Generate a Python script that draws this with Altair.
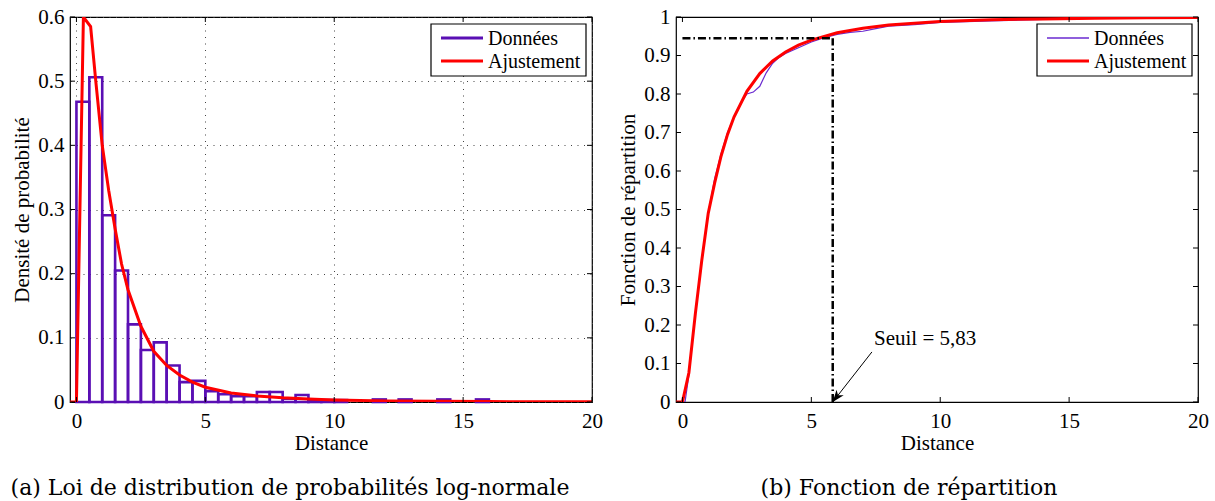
import math
import altair as alt
import pandas as pd

# ---------------------------------------------------------------------------
# Data
# ---------------------------------------------------------------------------
SERIES = ["Données", "Ajustement"]
PURPLE = "#5a0fb4"
PURPLE_THIN = "#6a2ad0"
RED = "#ff0000"

# Histogram of distances, bins of width 0.5 starting at 0
BIN_WIDTH = 0.5
densite = [0.468, 0.506, 0.291, 0.205, 0.121, 0.081, 0.093, 0.057,
           0.031, 0.033, 0.017, 0.012, 0.009, 0.009, 0.0156, 0.0156,
           0.005, 0.011, 0.003, 0.003, 0.003, 0.0, 0.0, 0.004,
           0.0, 0.004, 0.0, 0.0, 0.004, 0.0, 0.0, 0.004]

# Fitted log-normal density
pdf_x = [-0.25, 0.0, 0.27, 0.55, 0.75, 1.0, 1.25, 1.5, 1.75, 2.0, 2.5, 3.0,
         3.5, 4.0, 4.5, 5.0, 6.0, 7.0, 8.0, 9.0, 10.0, 12.0, 14.0, 16.0,
         18.0, 20.0]
pdf_y = [0.0, 0.0, 0.600, 0.585, 0.500, 0.400, 0.330, 0.270, 0.215, 0.175,
         0.118, 0.079, 0.057, 0.042, 0.031, 0.023, 0.014, 0.0095, 0.0065,
         0.0045, 0.0032, 0.0017, 0.0010, 0.0006, 0.0004, 0.0003]

# Empirical distribution function
ecdf_x = [-0.25, 0.1, 0.25, 0.5, 0.75, 1.0, 1.25, 1.5, 1.75, 2.0, 2.25, 2.5,
          2.75, 3.0, 3.25, 3.5, 3.75, 4.0, 4.5, 5.0, 5.5, 6.0, 6.5, 7.0, 7.5,
          8.0, 9.0, 10.0, 12.0, 14.0, 16.0, 20.0]
ecdf_y = [0.0, 0.0, 0.07, 0.23, 0.37, 0.49, 0.58, 0.645, 0.70, 0.74, 0.775,
          0.80, 0.805, 0.82, 0.855, 0.88, 0.895, 0.905, 0.92, 0.935, 0.946,
          0.955, 0.96, 0.963, 0.97, 0.976, 0.98, 0.986, 0.99, 0.994, 0.998,
          1.0]

# Fitted log-normal distribution function
cdf_x = [-0.25, 0.0, 0.25, 0.5, 0.75, 1.0, 1.25, 1.5, 1.75, 2.0, 2.5, 3.0,
         3.5, 4.0, 4.5, 5.0, 6.0, 7.0, 8.0, 10.0, 12.0, 14.0, 16.0, 18.0, 20.0]
cdf_y = [0.0, 0.0, 0.076, 0.229, 0.368, 0.490, 0.569, 0.639, 0.695, 0.740,
         0.807, 0.853, 0.886, 0.909, 0.927, 0.940, 0.959, 0.971, 0.979, 0.988,
         0.993, 0.995, 0.997, 0.998, 0.999]

# Threshold read on the fitted distribution function
SEUIL = 5.83
NIVEAU = 0.945
seuil_label = "Seuil = 5,83"
label_pos = (7.43, 0.163)     # where the annotation text starts
arrow_tail = (7.35, 0.13)

# Axis ticks
x_ticks = [0, 5, 10, 15, 20]
y_ticks_pdf = [0, 0.1, 0.2, 0.3, 0.4, 0.5, 0.6]
y_ticks_cdf = [0, 0.1, 0.2, 0.3, 0.4, 0.5, 0.6, 0.7, 0.8, 0.9, 1]

captions = ["(a) Loi de distribution de probabilités log-normale",
            "(b) Fonction de répartition"]

# ---------------------------------------------------------------------------
# Layout constants
# ---------------------------------------------------------------------------
W, H = 522, 385
XDOM = [-0.25, 20]
FONT = "Liberation Serif"
AXIS_SIZE = 21
CAP_FONT = "DejaVu Serif"
TICK = 5

hist_df = pd.DataFrame({
    "lo": [i * BIN_WIDTH for i in range(len(densite))],
    "hi": [(i + 1) * BIN_WIDTH for i in range(len(densite))],
    "d": densite,
})
hist_df = hist_df[hist_df["d"] > 0]
pdf_df = pd.DataFrame({"x": pdf_x, "y": pdf_y})
ecdf_df = pd.DataFrame({"x": ecdf_x, "y": ecdf_y})
cdf_df = pd.DataFrame({"x": cdf_x, "y": cdf_y})

GRID = dict(gridDash=[1, 5.5], gridColor="#444444", gridWidth=1)
TEXT = dict(labelFont=FONT, labelFontSize=AXIS_SIZE, labelColor="black",
            titleFont=FONT, titleFontSize=AXIS_SIZE, titleFontWeight="normal",
            titleColor="black", ticks=False, domain=False, labelFlush=False,
            labelOverlap=False, format="~g")


class Panel:
    """Shared x/y channel builders so that every layer carries the same axis."""

    def __init__(self, ydom, yvals, ytitle, grid):
        self.xscale = alt.Scale(domain=XDOM, nice=False, zero=False)
        self.yscale = alt.Scale(domain=ydom, nice=False)
        self.xaxis = alt.Axis(values=x_ticks, title="Distance", labelPadding=8,
                              titlePadding=1, grid=grid, **GRID, **TEXT)
        self.yaxis = alt.Axis(values=yvals, title=ytitle, labelPadding=6,
                              titlePadding=5, grid=grid, **GRID, **TEXT)
        self.yvals = yvals

    def x(self, field="x"):
        return alt.X(field, type="quantitative", scale=self.xscale, axis=self.xaxis)

    def y(self, field="y"):
        return alt.Y(field, type="quantitative", scale=self.yscale, axis=self.yaxis)

    def inner_ticks(self):
        """Inward tick marks on all four sides of the frame."""
        xt = pd.DataFrame({"t": x_ticks})
        yt = pd.DataFrame({"t": self.yvals})
        rule = dict(color="black", strokeWidth=1)
        return [
            alt.Chart(xt).mark_rule(**rule).encode(
                x=self.x("t"), y=alt.value(H), y2=alt.value(H - TICK)),
            alt.Chart(xt).mark_rule(**rule).encode(
                x=self.x("t"), y=alt.value(0), y2=alt.value(TICK)),
            alt.Chart(yt).mark_rule(**rule).encode(
                y=self.y("t"), x=alt.value(0), x2=alt.value(TICK)),
            alt.Chart(yt).mark_rule(**rule).encode(
                y=self.y("t"), x=alt.value(W), x2=alt.value(W - TICK)),
        ]


def legend(widths, colors):
    """Boxed legend in the upper right corner."""
    box_x, box_x2, box_y, box_y2 = W - 161, W - 6, 7, 59
    layers = [
        alt.Chart(pd.DataFrame({"a": [0]})).mark_rect(
            fill="white", stroke="black", strokeWidth=1.2).encode(
            x=alt.value(box_x), x2=alt.value(box_x2),
            y=alt.value(box_y), y2=alt.value(box_y2))
    ]
    for i, name in enumerate(SERIES):
        yy = 21 + 23 * i
        layers.append(
            alt.Chart(pd.DataFrame({"a": [0]})).mark_rule(
                color=colors[i], strokeWidth=widths[i]).encode(
                x=alt.value(box_x + 10), x2=alt.value(box_x + 52), y=alt.value(yy)))
        layers.append(
            alt.Chart(pd.DataFrame({"a": [0]})).mark_text(
                text=name, align="left", baseline="middle", font=FONT,
                fontSize=20, color="black").encode(
                x=alt.value(box_x + 57), y=alt.value(yy + 1)))
    return layers


def caption(text, dx):
    return alt.TitleParams(text=text, orient="bottom", anchor="middle",
                           font=CAP_FONT, fontSize=22, fontWeight="normal",
                           color="black", offset=25, dx=dx)


# ---------------------------------------------------------------------------
# (a) density
# ---------------------------------------------------------------------------
pa = Panel([0, 0.6], y_ticks_pdf, "Densité de probabilité", True)

bars = alt.Chart(hist_df).mark_rect(
    fill="white", fillOpacity=0, stroke=PURPLE, strokeWidth=2.6).encode(
    x=pa.x("lo"), x2="hi:Q", y=pa.y("d"), y2=alt.datum(0))
pdf_line = alt.Chart(pdf_df).mark_line(color=RED, strokeWidth=3, clip=True).encode(
    x=pa.x(), y=pa.y())

left = alt.layer(
    bars, pdf_line, *pa.inner_ticks(), *legend([3, 3], [PURPLE, RED]),
).properties(width=W, height=H, title=caption(captions[0], -41))

# ---------------------------------------------------------------------------
# (b) distribution function
# ---------------------------------------------------------------------------
pb = Panel([0, 1], y_ticks_cdf, "Fonction de répartition", False)

ecdf_line = alt.Chart(ecdf_df).mark_line(
    color=PURPLE_THIN, strokeWidth=1.2, clip=True).encode(x=pb.x(), y=pb.y())
cdf_line = alt.Chart(cdf_df).mark_line(color=RED, strokeWidth=3, clip=True).encode(
    x=pb.x(), y=pb.y())

dash = dict(color="black", strokeWidth=2.5, strokeDash=[8, 3, 1.5, 3])
seuil_v = alt.Chart(pd.DataFrame({"x": [SEUIL], "y": [0.0], "y2": [NIVEAU]})).mark_rule(
    **dash).encode(x=pb.x(), y=pb.y(), y2="y2:Q")
seuil_h = alt.Chart(pd.DataFrame({"x": [0.0], "x2": [SEUIL], "y": [NIVEAU]})).mark_rule(
    **dash).encode(x=pb.x(), x2="x2:Q", y=pb.y())

arrow_df = pd.DataFrame({"x": [arrow_tail[0]], "y": [arrow_tail[1]],
                         "x2": [SEUIL], "y2": [0.0]})
shaft = alt.Chart(arrow_df).mark_rule(color="black", strokeWidth=1).encode(
    x=pb.x(), x2="x2:Q", y=pb.y(), y2="y2:Q")

# head orientation follows the shaft direction in screen space
px_x = W / (XDOM[1] - XDOM[0])
px_y = H / 1.0
ddx = (SEUIL - arrow_tail[0]) * px_x
ddy = (arrow_tail[1] - 0.0) * px_y
head_angle = (math.degrees(math.atan2(ddx, -ddy))) % 360
head = alt.Chart(pd.DataFrame({"x": [SEUIL], "y": [0.0]})).mark_point(
    shape="M0,0 L0.38,1 L0,0.72 L-0.38,1 Z", filled=True, color="black",
    opacity=1, size=576, angle=head_angle).encode(x=pb.x(), y=pb.y())

label = alt.Chart(pd.DataFrame({"x": [label_pos[0]], "y": [label_pos[1]],
                                "t": [seuil_label]})).mark_text(
    align="left", baseline="middle", font=FONT, fontSize=21, color="black").encode(
    x=pb.x(), y=pb.y(), text="t:N")

right = alt.layer(
    ecdf_line, cdf_line, seuil_h, seuil_v, shaft, head, label,
    *pb.inner_ticks(), *legend([1.5, 3], [PURPLE_THIN, RED]),
).properties(width=W, height=H, title=caption(captions[1], -28))

chart = alt.hconcat(left, right, spacing=13).properties(
    padding={"left": 9, "top": 5, "right": 4, "bottom": 0},
    background="white",
).configure_view(
    stroke="black", strokeWidth=1.2,
)

chart.save("out.html", embed_options={"renderer": "svg", "actions": False})
